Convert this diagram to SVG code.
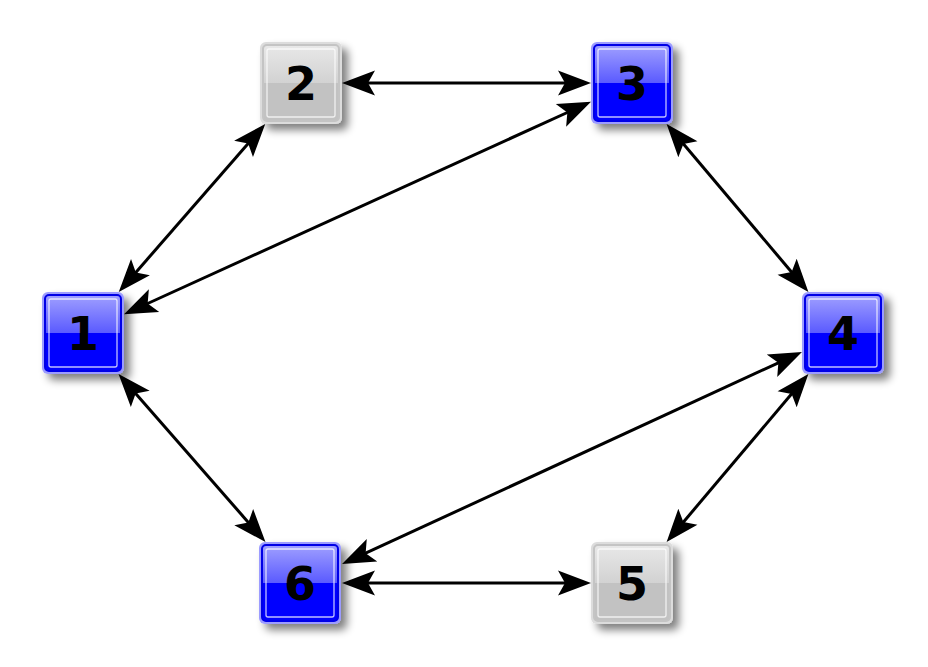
<svg xmlns="http://www.w3.org/2000/svg" xmlns:xlink="http://www.w3.org/1999/xlink" width="928" height="667" viewBox="0 0 928 667">
<defs>
<style>
.lbl{font-family:"DejaVu Sans",sans-serif;font-weight:bold;font-size:46px;fill:#000;text-anchor:middle}
.edge{stroke:#000;stroke-width:3;fill:none;marker-start:url(#ah);marker-end:url(#ah)}
.hl{fill:none;stroke:#fff;stroke-opacity:0.75;stroke-width:1.3}
</style>
<linearGradient id="gb" x1="0" y1="0" x2="0" y2="1">
<stop offset="0" stop-color="#a0a0ff"/><stop offset="0.5" stop-color="#5a5aff"/><stop offset="0.5" stop-color="#0000ff"/><stop offset="1" stop-color="#0000ff"/>
</linearGradient>
<linearGradient id="gg" x1="0" y1="0" x2="0" y2="1">
<stop offset="0" stop-color="#e8e8e8"/><stop offset="0.5" stop-color="#d2d2d2"/><stop offset="0.5" stop-color="#c2c2c2"/><stop offset="1" stop-color="#c2c2c2"/>
</linearGradient>
<filter id="sh" x="-30%" y="-30%" width="170%" height="170%">
<feOffset in="SourceAlpha" dx="6" dy="6" result="o"/>
<feGaussianBlur in="o" stdDeviation="4.5" result="b"/>
<feComponentTransfer in="b" result="c"><feFuncA type="linear" slope="0.5"/></feComponentTransfer>
<feMerge><feMergeNode in="c"/><feMergeNode in="SourceGraphic"/></feMerge>
</filter>
<marker id="ah" markerUnits="userSpaceOnUse" orient="auto-start-reverse" refX="0" refY="0" markerWidth="40" markerHeight="30" overflow="visible">
<path d="M20,0 L-13,-12.5 L-6,0 L-13,12.5 Z" fill="#000"/>
</marker>
<g id="bluebox">
<rect x="-41" y="-41" width="82" height="82" rx="6" fill="#9c9cff" filter="url(#sh)"/>
<rect x="-38" y="-38" width="76" height="76" rx="4" fill="url(#gb)" stroke="#0000e6" stroke-width="2"/>
<rect x="-34" y="-34" width="68" height="68" rx="2" class="hl"/>
</g>
<g id="graybox">
<rect x="-41" y="-41" width="82" height="82" rx="6" fill="#dcdcdc" filter="url(#sh)"/>
<rect x="-38" y="-38" width="76" height="76" rx="4" fill="url(#gg)" stroke="#c4c4c4" stroke-width="2"/>
<rect x="-34" y="-34" width="68" height="68" rx="2" class="hl"/>
</g>
</defs>
<rect width="928" height="667" fill="#fff"/>
<g id="edges">
<line class="edge" x1="131.9" y1="276.9" x2="252.1" y2="139.1"/>
<line class="edge" x1="362" y1="83" x2="571" y2="83"/>
<line class="edge" x1="142.2" y1="306.0" x2="572.8" y2="110.0"/>
<line class="edge" x1="679.5" y1="139.3" x2="795.5" y2="276.7"/>
<line class="edge" x1="795.5" y1="389.3" x2="679.5" y2="526.7"/>
<line class="edge" x1="783.8" y1="360.3" x2="360.2" y2="555.7"/>
<line class="edge" x1="362" y1="583" x2="571" y2="583"/>
<line class="edge" x1="131.7" y1="389.1" x2="252.3" y2="526.9"/>
</g>
<g id="node1" transform="translate(83,333)"><use xlink:href="#bluebox"/><text class="lbl" y="17">1</text></g>
<g id="node2" transform="translate(301,83)"><use xlink:href="#graybox"/><text class="lbl" y="17">2</text></g>
<g id="node3" transform="translate(632,83)"><use xlink:href="#bluebox"/><text class="lbl" y="17">3</text></g>
<g id="node4" transform="translate(843,333)"><use xlink:href="#bluebox"/><text class="lbl" y="17">4</text></g>
<g id="node5" transform="translate(632,583)"><use xlink:href="#graybox"/><text class="lbl" y="17">5</text></g>
<g id="node6" transform="translate(300,583)"><use xlink:href="#bluebox"/><text class="lbl" y="17">6</text></g>
</svg>
